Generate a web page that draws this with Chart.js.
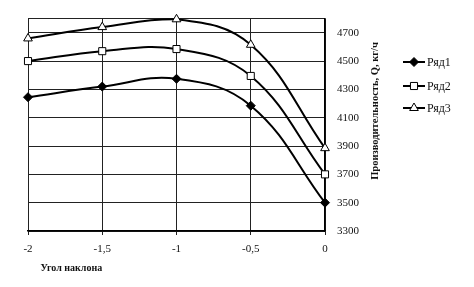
<!DOCTYPE html>
<html>
<head>
<meta charset="utf-8">
<script src="https://cdn.jsdelivr.net/npm/chart.js@4"></script>
<style>
html,body{margin:0;padding:0;background:#fff;}
#wrap{width:474px;height:287px;position:relative;}
</style>
</head>
<body>
<div id="wrap"><canvas id="c" width="474" height="287"></canvas></div>
<script>
const angles=[-2,-1.5,-1,-0.5,0];
const ryad1=[4245,4320,4375,4185,3500];
const ryad2=[4500,4570,4585,4395,3700];
const ryad3=[4660,4740,4795,4615,3885];
const yTicks=[3300,3500,3700,3900,4100,4300,4500,4700,4800];
const seriesNames=['Ряд1','Ряд2','Ряд3'];
const yTitle='Производительность, Q, кг/ч';
const xTitle='Угол наклона';

const serif='"Liberation Serif","DejaVu Serif",serif';
const ink='#111';

function pts(vals){return angles.map((x,i)=>({x:x,y:vals[i]}));}

// legend at the side + rotated y title, drawn like the original
const legendPlugin={
 id:'sideLegend',
 afterDraw(chart){
  const ctx=chart.ctx;
  const ys=[62,86,108];
  chart.data.datasets.forEach((ds,i)=>{
   const y=ys[i];
   ctx.save();
   ctx.strokeStyle='#000';ctx.lineWidth=2;
   ctx.beginPath();ctx.moveTo(403,y);ctx.lineTo(425,y);ctx.stroke();
   ctx.fillStyle=ds.pointBackgroundColor;ctx.strokeStyle='#000';ctx.lineWidth=1;
   Chart.helpers.drawPoint(ctx,{pointStyle:ds.pointStyle,radius:ds.pointRadius,borderWidth:1},414,y);
   ctx.fillStyle=ink;ctx.font='12px '+serif;ctx.textBaseline='middle';
   ctx.fillText(ds.label,427,y+1);
   ctx.restore();
  });
  ctx.save();
  ctx.translate(375,111);
  ctx.rotate(-Math.PI/2);
  ctx.fillStyle=ink;ctx.font='bold 10.5px '+serif;
  ctx.textAlign='center';ctx.textBaseline='middle';
  ctx.fillText(yTitle,0,0);
  ctx.restore();
 }
};

const style=[
 {ps:'rectRot',r:4.5,bg:'#000'},
 {ps:'rect',r:5,bg:'#fff'},
 {ps:'triangle',r:5,bg:'#fff'}
];

new Chart(document.getElementById('c'),{
 type:'line',
 data:{
  datasets:[ryad1,ryad2,ryad3].map((v,i)=>({
   label:seriesNames[i],
   data:pts(v),
   borderColor:'#000',
   borderWidth:2,
   tension:0.4,
   clip:false,
   pointStyle:style[i].ps,
   pointRadius:style[i].r,
   pointBackgroundColor:style[i].bg,
   pointBorderColor:'#000',
   pointBorderWidth:1
  }))
 },
 options:{
  responsive:false,
  animation:false,
  layout:{padding:{left:28,top:13,right:0,bottom:13}},
  plugins:{legend:{display:false},tooltip:{enabled:false}},
  scales:{
   x:{
    type:'linear',min:-2,max:0,
    afterFit(s){s.height=43;},
    ticks:{stepSize:0.5,color:ink,font:{family:serif,size:11},padding:8,maxRotation:0,
     callback:v=>String(v).replace('.',',')},
    grid:{color:'#222',lineWidth:1,tickLength:4,drawTicks:true},
    border:{color:'#000',width:1.5},
    title:{display:true,text:'\u00a0\u00a0\u00a0\u00a0\u00a0'+xTitle,align:'start',color:ink,font:{family:serif,size:10,weight:'bold'},padding:{top:4,bottom:0}}
   },
   y:{
    position:'right',min:3300,max:4800,
    afterFit(s){s.width=149;},
    afterBuildTicks(s){s.ticks=yTicks.map(v=>({value:v}));},
    ticks:{color:ink,font:{family:serif,size:11},padding:12,
     callback:v=>v===4800?'':v},
    grid:{color:'#222',lineWidth:1,drawTicks:false},
    border:{color:'#000',width:1.5}
   }
  }
 },
 plugins:[legendPlugin]
});
</script>
</body>
</html>
